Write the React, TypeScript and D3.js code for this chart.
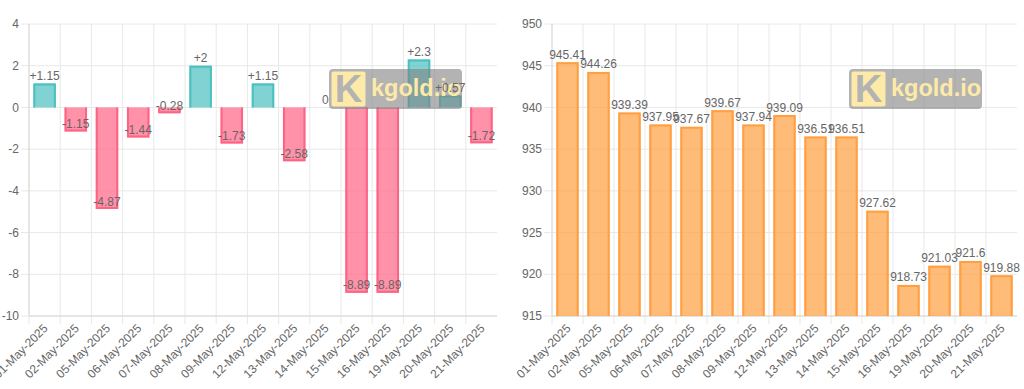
import React from 'react';
import * as d3 from 'd3';

// daily gold price data (kgold.io)
const dates = [
  '01-May-2025', '02-May-2025', '05-May-2025', '06-May-2025', '07-May-2025',
  '08-May-2025', '09-May-2025', '12-May-2025', '13-May-2025', '14-May-2025',
  '15-May-2025', '16-May-2025', '19-May-2025', '20-May-2025', '21-May-2025',
];
const changes = [1.15, -1.15, -4.87, -1.44, -0.28, 2, -1.73, 1.15, -2.58, 0, -8.89, -8.89, 2.3, 0.57, -1.72];
const prices = [945.41, 944.26, 939.39, 937.95, 937.67, 939.67, 937.94, 939.09, 936.51, 936.51, 927.62, 918.73, 921.03, 921.6, 919.88];
const changeTicks = [4, 2, 0, -2, -4, -6, -8, -10];
const priceTicks = [950, 945, 940, 935, 930, 925, 920, 915];

const FONT = '"Liberation Sans", Arial, Helvetica, sans-serif';
const TOP = 24;
const BOTTOM = 316;

type PanelProps = {
  left: number;
  right: number;
  values: number[];
  ticks: number[];
  fill: (v: number) => string;
  stroke: (v: number) => string;
  label: (v: number) => string;
  markX: number;
};

const Watermark = ({ x }: { x: number }) => (
  <g>
    <rect x={x} y={69} width={133} height={40} rx={4} fill="rgba(128,128,128,0.6)" />
    <rect x={x + 2.5} y={71.5} width={34} height={35} rx={2} fill="#fdeaa8" />
    <text x={x + 19.5} y={102} textAnchor="middle" fontFamily={FONT} fontWeight="bold"
      fontSize={38} fill="#b3b3b3">K</text>
    <text x={x + 42} y={96} fontFamily={FONT} fontWeight="bold" fontSize={23.5} fill="#fdeaa8">kgold.io</text>
  </g>
);

const BarPanel = ({ left, right, values, ticks, fill, stroke, label, markX }: PanelProps) => {
  const x = d3.scaleBand().domain(dates).range([left, right]);
  const y = d3.scaleLinear().domain([d3.min(ticks)!, d3.max(ticks)!]).range([BOTTOM, TOP]);
  const bw = x.bandwidth() * 0.72;
  const base = Math.max(y.domain()[0], Math.min(0, y.domain()[1]));

  return (
    <g>
      {ticks.map(t => (
        <line key={'h' + t} x1={left - 8} x2={right} y1={y(t)} y2={y(t)} stroke="#e8e8e8" />
      ))}
      {dates.map(d => (
        <line key={'v' + d} x1={x(d)!} x2={x(d)!} y1={TOP} y2={BOTTOM + 8} stroke="#e8e8e8" />
      ))}
      <line x1={left} x2={left} y1={TOP} y2={BOTTOM} stroke="#d9d9d9" />
      <line x1={left} x2={right} y1={BOTTOM} y2={BOTTOM} stroke="#d9d9d9" />

      {values.map((v, i) => {
        if (v === 0) return null;
        const cx = x(dates[i])! + x.bandwidth() / 2;
        const y0 = y(base);
        const y1 = y(v);
        const top = Math.min(y0, y1);
        const h = Math.abs(y1 - y0);
        const xl = cx - bw / 2;
        // border on every side except the base
        const edge = v > 0 ? y1 + 1 : y1 - 1;
        const pts = `M${xl + 1},${y0} V${edge} H${xl + bw - 1} V${y0}`;
        return (
          <g key={'b' + i}>
            <rect x={xl} y={top} width={bw} height={h} fill={fill(v)} />
            <path d={pts} fill="none" stroke={stroke(v)} strokeWidth={2} />
          </g>
        );
      })}

      <Watermark x={markX} />

      {values.map((v, i) => {
        const cx = x(dates[i])! + x.bandwidth() / 2;
        return (
          <text key={'l' + i} x={cx} y={y(v) - 3.5} textAnchor="middle" fontFamily={FONT}
            fontSize={12} fill="#666">{label(v)}</text>
        );
      })}

      {ticks.map(t => (
        <text key={'yt' + t} x={left - 10} y={y(t)} dy="0.35em" textAnchor="end"
          fontFamily={FONT} fontSize={12} fill="#666">{t}</text>
      ))}
      {dates.map(d => {
        const cx = x(d)! + x.bandwidth() / 2;
        return (
          <text key={'xt' + d} transform={`translate(${cx + 1},${BOTTOM + 10}) rotate(-45)`}
            dy="0.35em" textAnchor="end" fontFamily={FONT} fontSize={12} fill="#666">{d}</text>
        );
      })}
    </g>
  );
};

export default function App() {
  return (
    <svg width={1024} height={389} style={{ position: 'absolute', left: 0, top: 0, background: '#fff' }}>
      <BarPanel
        left={29}
        right={497}
        values={changes}
        ticks={changeTicks}
        fill={v => (v >= 0 ? 'rgba(75,192,192,0.7)' : 'rgba(255,99,132,0.7)')}
        stroke={v => (v >= 0 ? 'rgb(75,192,192)' : 'rgb(255,99,132)')}
        label={v => (v > 0 ? '+' + v : String(v))}
        markX={329}
      />
      <BarPanel
        left={552}
        right={1017}
        values={prices}
        ticks={priceTicks}
        fill={() => 'rgba(255,159,64,0.7)'}
        stroke={() => 'rgb(255,159,64)'}
        label={v => String(v)}
        markX={849}
      />
    </svg>
  );
}
